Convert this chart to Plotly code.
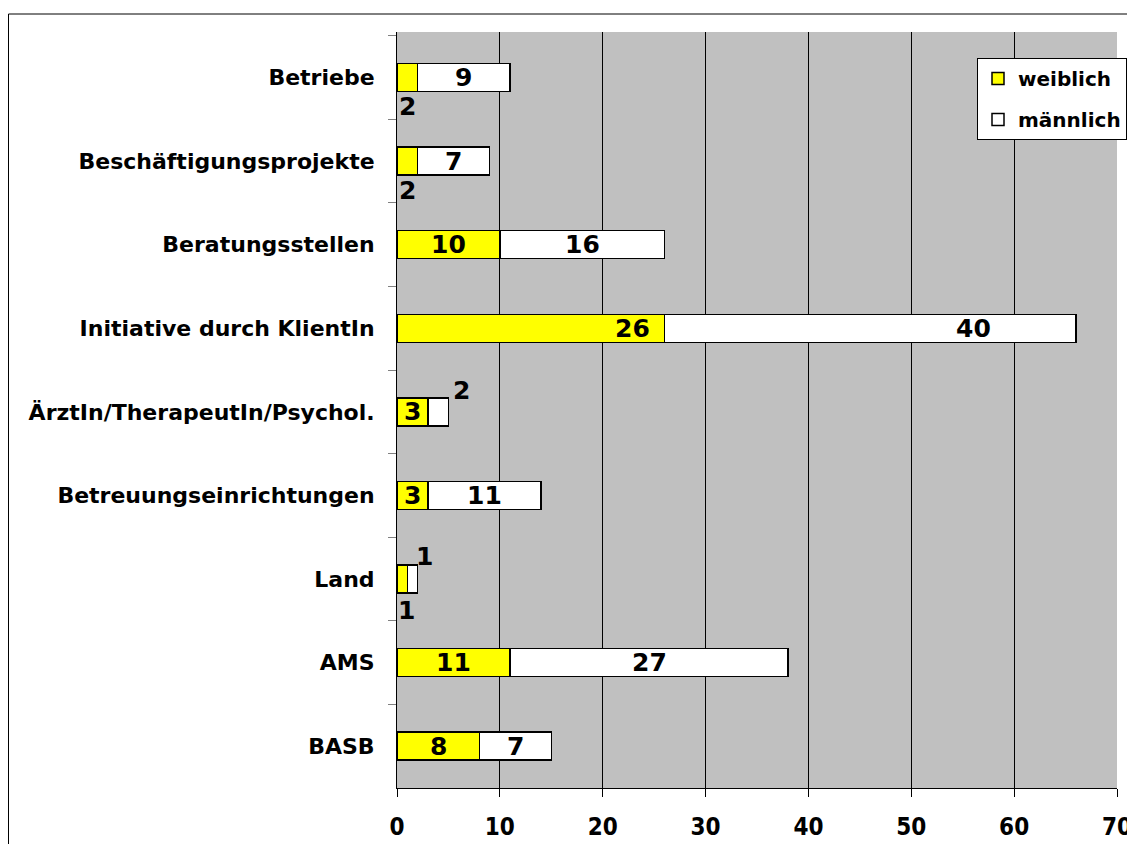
import plotly.graph_objects as go

categories = ["Betriebe", "Beschäftigungsprojekte", "Beratungsstellen",
              "Initiative durch KlientIn", "ÄrztIn/TherapeutIn/Psychol.",
              "Betreuungseinrichtungen", "Land", "AMS", "BASB"]
weiblich = [2, 2, 10, 26, 3, 3, 1, 11, 8]
maennlich = [9, 7, 16, 40, 2, 11, 1, 27, 7]
x_ticks = [0, 10, 20, 30, 40, 50, 60, 70]

# label placement overrides: (category index, series) -> (x in data units, yshift px)
label_place = {
    (0, "w"): (1.0, -29), (1, "w"): (1.0, -29),
    (3, "w"): (22.85, 0), (3, "m"): (56.0, 0),
    (4, "m"): (6.3, 21),
    (6, "m"): (2.7, 23), (6, "w"): (0.9, -31),
}

# page body has an 8px margin; figure is sized so it fills the window to the right/bottom
W, H = 1127, 836
L, R, T, B = 389, 18, 24, 56
pw, ph = W - L - R, H - T - B

fig = go.Figure()
fig.add_trace(go.Bar(y=categories, x=weiblich, name="weiblich", orientation="h",
                     legendgroup="w",
                     marker=dict(color="#ffff00", line=dict(color="black", width=1.5)),
                     width=0.335))
fig.add_trace(go.Bar(y=categories, x=maennlich, name="männlich", orientation="h",
                     legendgroup="m",
                     marker=dict(color="#ffffff", line=dict(color="black", width=1.5)),
                     width=0.335))

lab_font = dict(family="DejaVu Sans", size=25, color="black", weight="bold")
ann = []
for i, c in enumerate(categories):
    for key, start, val in (("w", 0, weiblich[i]), ("m", weiblich[i], maennlich[i])):
        if (i, key) in label_place:
            xv, ys = label_place[(i, key)]
        else:
            xv, ys = start + val / 2, 0
        ann.append(dict(x=xv, y=c, text=str(val), showarrow=False, yshift=ys,
                        font=lab_font, xanchor="center", yanchor="middle"))

x0p = (0.5 - L) / pw
y0p = (H - B - 6) / ph
shapes = [
    dict(type="line", xref="paper", yref="paper", x0=x0p, x1=(W - L) / pw + 0.01,
         y0=y0p, y1=y0p, line=dict(color="black", width=1)),
    dict(type="line", xref="paper", yref="paper", x0=x0p, x1=x0p,
         y0=y0p, y1=-B / ph - 0.01, line=dict(color="black", width=1)),
]

fig.update_layout(
    width=W, height=H, barmode="stack",
    margin=dict(l=L, r=R, t=T, b=B, pad=0, autoexpand=False),
    paper_bgcolor="white", plot_bgcolor="#c0c0c0",
    annotations=ann, shapes=shapes,
    showlegend=True,
    legend=dict(x=(977 - 8 - L) / pw, y=(H - B - (58 - 8)) / ph, xanchor="left", yanchor="top",
                bgcolor="white", bordercolor="black", borderwidth=1,
                font=dict(family="DejaVu Sans", size=20, color="black", weight="bold"),
                traceorder="grouped", itemwidth=30, tracegroupgap=12),
    xaxis=dict(range=[0, 70], tickvals=x_ticks, showgrid=True, gridcolor="black",
               gridwidth=1, zeroline=False, showline=True, linecolor="black",
               ticks="outside", ticklen=8, tickcolor="black", ticklabelstandoff=9,
               automargin=False,
               tickfont=dict(family="DejaVu Sans Condensed", size=24, color="black", weight="bold")),
    yaxis=dict(autorange="reversed", showline=True, linecolor="black",
               ticks="outside", ticklen=8, tickcolor="#808080", tickson="boundaries",
               ticklabelstandoff=17, automargin=False,
               tickfont=dict(family="DejaVu Sans", size=22, color="black", weight="bold")),
    bargap=0.665,
)
fig.write_html("out.html")
